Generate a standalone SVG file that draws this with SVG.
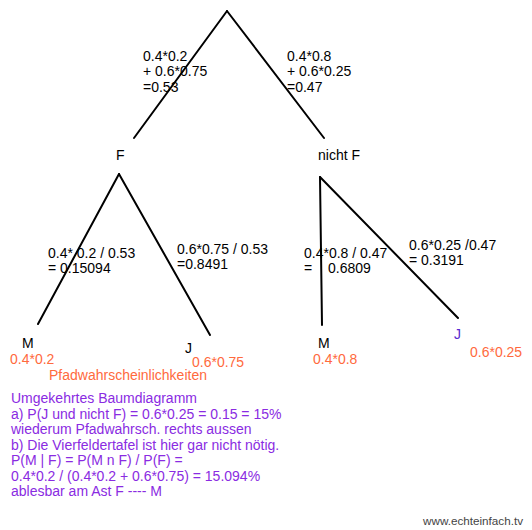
<svg xmlns="http://www.w3.org/2000/svg" width="532" height="530" viewBox="0 0 532 530">
<style>
text{font-family:"Liberation Sans",Arial,sans-serif;font-size:14px;fill:#000}
.o{fill:#ff6a3d}
.p{fill:#8a2be2}
.j{fill:#5a2ad0}
.br{stroke:#000;stroke-width:2;fill:none;stroke-linecap:round}
.ft{font-size:11.7px;fill:#444}
</style>
<rect width="532" height="530" fill="#fff"/>
<g id="connectors">
<line class="br" x1="227" y1="11" x2="134" y2="138"/>
<line class="br" x1="227" y1="11" x2="324" y2="138"/>
<line class="br" x1="119" y1="174" x2="38" y2="324"/>
<line class="br" x1="119" y1="174" x2="210" y2="335"/>
<line class="br" x1="320" y1="177" x2="322" y2="325"/>
<line class="br" x1="320" y1="177" x2="458" y2="318"/>
</g>
<g id="edge-labels">
<text x="143" y="61">0.4*0.2</text>
<text x="143" y="76">+ 0.6*0.75</text>
<text x="143" y="92">=0.53</text>
<text x="287" y="61">0.4*0.8</text>
<text x="287" y="76">+ 0.6*0.25</text>
<text x="287" y="92">=0.47</text>
<text x="48" y="258">0.4* 0.2 / 0.53</text>
<text x="48" y="273">= 0.15094</text>
<text x="177" y="254">0.6*0.75 / 0.53</text>
<text x="177" y="269">=0.8491</text>
<text x="304" y="258">0.4*0.8 / 0.47</text>
<text x="304" y="273">=</text>
<text x="328" y="273">0.6809</text>
<text x="409" y="250">0.6*0.25 /0.47</text>
<text x="409" y="265">= 0.3191</text>
</g>
<g id="node-F"><text x="116" y="160">F</text></g>
<g id="node-nichtF"><text x="318" y="160">nicht F</text></g>
<g id="node-M1"><text x="22" y="348">M</text><text class="o" x="10" y="364">0.4*0.2</text></g>
<g id="node-J1"><text x="185" y="353">J</text><text class="o" x="192" y="367">0.6*0.75</text></g>
<g id="node-M2"><text x="318" y="348">M</text><text class="o" x="313" y="364">0.4*0.8</text></g>
<g id="node-J2"><text class="j" x="454" y="339">J</text><text class="o" x="470" y="357">0.6*0.25</text></g>
<g id="notes">
<text class="o" x="49" y="380">Pfadwahrscheinlichkeiten</text>
<text class="p" x="11" y="403">Umgekehrtes Baumdiagramm</text>
<text class="p" x="11" y="418.5">a) P(J und nicht F) = 0.6*0.25 = 0.15 = 15%</text>
<text class="p" x="11" y="434">wiederum Pfadwahrsch. rechts aussen</text>
<text class="p" x="11" y="449.5">b) Die Vierfeldertafel ist hier gar nicht nötig.</text>
<text class="p" x="11" y="465">P(M | F) = P(M n F) / P(F) =</text>
<text class="p" x="11" y="480.5">0.4*0.2 / (0.4*0.2 + 0.6*0.75) = 15.094%</text>
<text class="p" x="11" y="496">ablesbar am Ast F ---- M</text>
<text class="ft" x="423" y="525">www.echteinfach.tv</text>
</g>
</svg>
